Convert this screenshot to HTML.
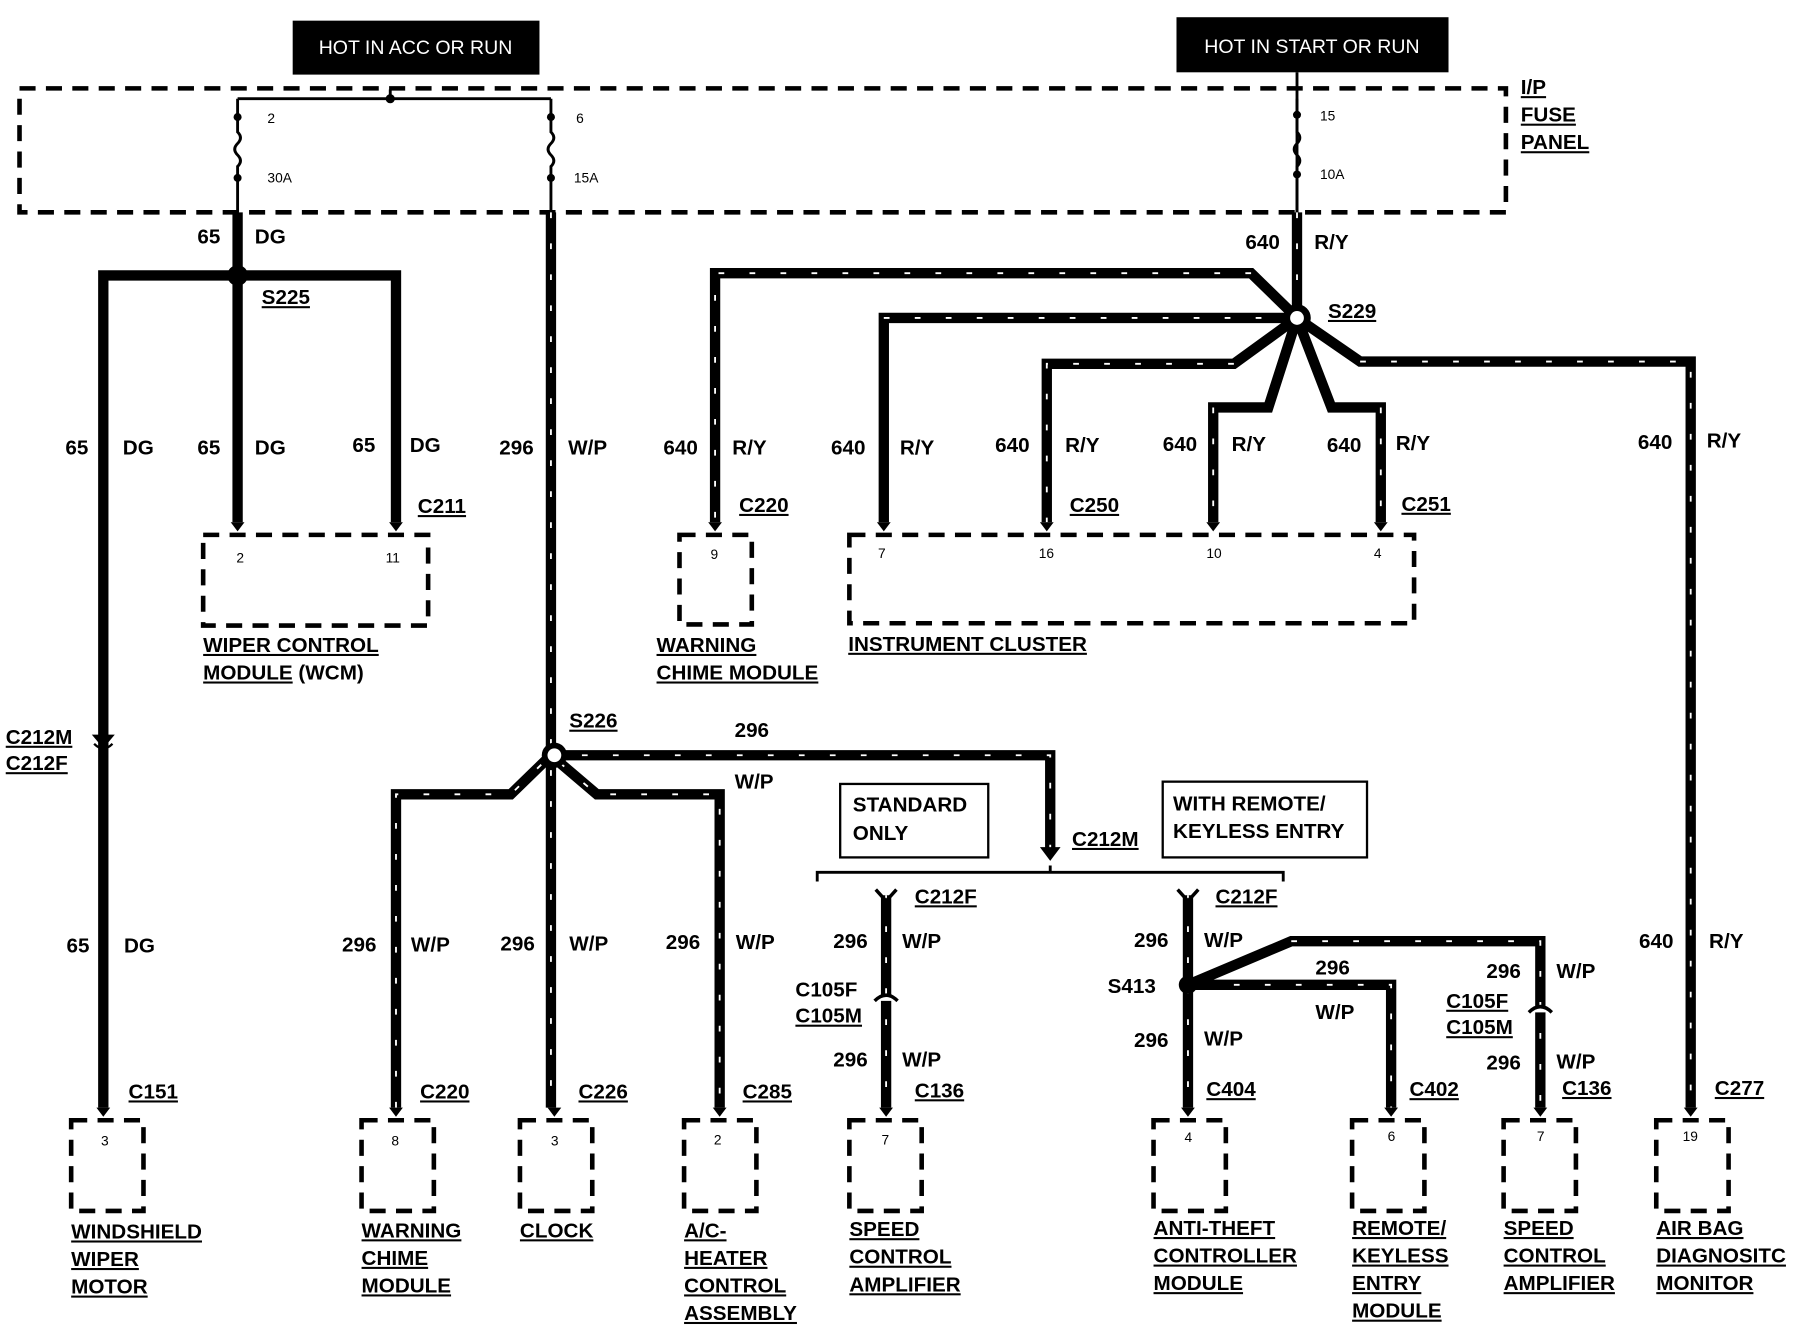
<!DOCTYPE html>
<html><head><meta charset="utf-8"><style>
html,body{margin:0;padding:0;background:#fff;}
svg{display:block;}
text{font-family:"Liberation Sans",Arial,sans-serif;font-weight:bold;fill:#000;}
.w{fill:none;stroke:#000;stroke-width:9;stroke-linejoin:miter;}
.s{fill:none;stroke:#fff;stroke-width:1.6;stroke-dasharray:5 22;}
.d{fill:none;stroke:#000;stroke-width:4;stroke-dasharray:14 9;}
.t{font-size:18px;}
.u{font-size:18px;text-decoration:underline;}
.p{font-size:12px;font-weight:normal;}
</style></head><body>
<svg width="1794" height="1328" viewBox="0 0 1563 1157" preserveAspectRatio="none" xmlns="http://www.w3.org/2000/svg">
<rect x="0" y="0" width="1563" height="1157" fill="#fff"/>
<rect x="255" y="18" width="215" height="47" fill="#000"/>
<text x="362" y="47" text-anchor="middle" style="fill:#fff;font-weight:normal;font-size:17px">HOT IN ACC OR RUN</text>
<rect x="1025" y="15" width="237" height="48" fill="#000"/>
<text x="1143" y="46" text-anchor="middle" style="fill:#fff;font-weight:normal;font-size:17px">HOT IN START OR RUN</text>
<rect x="17" y="77" width="1295" height="108" class="d"/>
<path d="M207 86 H480 M340 78 V86 M1130 63 V185" stroke="#000" stroke-width="2.5" fill="none"/>
<circle cx="340" cy="86" r="4"/>
<path d="M207 86 V115 q5 5 0 10 q-5 5 0 10 q5 5 0 10 V185" stroke="#000" stroke-width="2.5" fill="none"/>
<path d="M480 86 V115 q5 5 0 10 q-5 5 0 10 q5 5 0 10 V185" stroke="#000" stroke-width="2.5" fill="none"/>
<path d="M1130 86 V115 q5 5 0 10 q-5 5 0 10 q5 5 0 10 V185" stroke="#000" stroke-width="2.5" fill="none"/>
<circle cx="207" cy="102" r="3.5"/><circle cx="207" cy="155" r="3.5"/>
<circle cx="480" cy="102" r="3.5"/><circle cx="480" cy="155" r="3.5"/>
<circle cx="1130" cy="100" r="3.5"/><circle cx="1130" cy="152" r="3.5"/>
<text x="233" y="107" class="p">2</text><text x="233" y="159" class="p">30A</text>
<text x="502" y="107" class="p">6</text><text x="500" y="159" class="p">15A</text>
<text x="1150" y="105" class="p">15</text><text x="1150" y="156" class="p">10A</text>
<text x="1325" y="82" class="u">I/P</text><text x="1325" y="106" class="u">FUSE</text><text x="1325" y="130" class="u">PANEL</text>

<path class="w" d="M207 185 V455 M90 965 V240 H345 V455"/>
<circle cx="207" cy="240" r="9"/>
<path d="M82 640 q8 8 16 0" stroke="#fff" stroke-width="4" fill="none"/>
<path d="M82 648 q8 8 16 0" stroke="#000" stroke-width="2" fill="none"/>
<path d="M80 640 l10 12 l10 -12" fill="#000"/>
<text x="172" y="212" class="t">65</text><text x="222" y="212" class="t">DG</text>
<text x="228" y="265" class="u">S225</text>
<text x="57" y="396" class="t">65</text><text x="107" y="396" class="t">DG</text>
<text x="172" y="396" class="t">65</text><text x="222" y="396" class="t">DG</text>
<text x="307" y="394" class="t">65</text><text x="357" y="394" class="t">DG</text>
<text x="364" y="447" class="u">C211</text>
<text x="5" y="648" class="u">C212M</text><text x="5" y="671" class="u">C212F</text>
<text x="58" y="830" class="t">65</text><text x="108" y="830" class="t">DG</text>
<text x="112" y="957" class="u">C151</text>
<rect x="177" y="466" width="196" height="79" class="d"/>
<text x="206" y="490" class="p">2</text><text x="336" y="490" class="p">11</text>
<path d="M201 455 l6 8 l6 -8 M339 455 l6 8 l6 -8" fill="#000"/>
<text x="177" y="568" class="u">WIPER CONTROL</text><text x="177" y="592" class="t"><tspan text-decoration="underline">MODULE</tspan> (WCM)</text>

<g>
<path class="w" d="M480 185 V965 M345 965 V692 H445 L480 658 L520 692 H627 V965 M480 658 H915 V740"/>
<path class="s" d="M480 185 V965 M345 965 V692 H445 L480 658 L520 692 H627 V965 M480 658 H915 V740"/>
</g>
<circle cx="483" cy="658" r="11"/><circle cx="483" cy="658" r="6" fill="#fff"/>
<path d="M906 738 l9 12 l9 -12z"/>
<text x="435" y="396" class="t">296</text><text x="495" y="396" class="t">W/P</text>
<text x="496" y="634" class="u">S226</text>
<text x="640" y="642" class="t">296</text><text x="640" y="687" class="t">W/P</text>
<text x="934" y="737" class="u">C212M</text>
<rect x="732" y="683" width="129" height="64" fill="none" stroke="#000" stroke-width="2"/>
<text x="743" y="707" class="t">STANDARD</text><text x="743" y="732" class="t">ONLY</text>
<rect x="1013" y="681" width="178" height="66" fill="none" stroke="#000" stroke-width="2"/>
<text x="1022" y="706" class="t">WITH REMOTE/</text><text x="1022" y="730" class="t">KEYLESS ENTRY</text>
<path d="M712 768 V760 H1118 V768 M915 760 V754" stroke="#000" stroke-width="2.5" fill="none"/>

<g>
<path class="w" d="M1130 185 V277 M1130 277 L1090 238 H623 V455 M1130 277 H770 V455 M1130 277 L1075 317 H912 V455 M1130 277 L1105 355 H1057 V455 M1130 277 L1160 355 H1203 V455 M1130 277 L1185 315 H1473 V965"/>
<path class="s" d="M1130 185 V277 M1090 238 H623 V455 M770 277 H1130 M1075 317 H912 V455 M1057 355 V455 M1203 355 V455 M1185 315 H1473 V965"/>
</g>
<circle cx="1130" cy="277" r="12"/><circle cx="1130" cy="277" r="6" fill="#fff"/>
<text x="1085" y="217" class="t">640</text><text x="1145" y="217" class="t">R/Y</text>
<text x="1157" y="277" class="u">S229</text>
<text x="578" y="396" class="t">640</text><text x="638" y="396" class="t">R/Y</text>
<text x="724" y="396" class="t">640</text><text x="784" y="396" class="t">R/Y</text>
<text x="867" y="394" class="t">640</text><text x="928" y="394" class="t">R/Y</text>
<text x="1013" y="393" class="t">640</text><text x="1073" y="393" class="t">R/Y</text>
<text x="1156" y="394" class="t">640</text><text x="1216" y="392" class="t">R/Y</text>
<text x="1427" y="391" class="t">640</text><text x="1487" y="390" class="t">R/Y</text>
<text x="644" y="446" class="u">C220</text><text x="932" y="446" class="u">C250</text><text x="1221" y="445" class="u">C251</text>
<path d="M617 455 l6 8 l6 -8 M764 455 l6 8 l6 -8 M906 455 l6 8 l6 -8 M1051 455 l6 8 l6 -8 M1197 455 l6 8 l6 -8" fill="#000"/>
<rect x="592" y="466" width="63" height="78" class="d"/>
<text x="619" y="487" class="p">9</text>
<rect x="740" y="466" width="492" height="77" class="d"/>
<text x="765" y="486" class="p">7</text><text x="905" y="486" class="p">16</text><text x="1051" y="486" class="p">10</text><text x="1197" y="486" class="p">4</text>
<text x="572" y="568" class="u">WARNING</text><text x="572" y="592" class="u">CHIME MODULE</text>
<text x="739" y="567" class="u">INSTRUMENT CLUSTER</text>
<text x="1489" y="826" class="t">R/Y</text><text x="1428" y="826" class="t">640</text>
<text x="1494" y="954" class="u">C277</text>

<g>
<path class="w" d="M772 780 V965 M1035 780 V965 M1035 858 L1125 820 H1342 V965 M1035 858 L1075 858 H1212 V965"/>
<path class="s" d="M772 780 V965 M1035 780 V965 M1125 820 H1342 V965 M1075 858 H1212 V965"/>
</g>
<circle cx="1035" cy="858" r="8"/>
<path d="M763 775 l9 10 l9 -10 M1026 775 l9 10 l9 -10" stroke="#000" stroke-width="3" fill="none"/>
<path d="M762 872 q10 -10 20 0 M1332 882 q10 -10 20 0" stroke="#000" stroke-width="3" fill="#fff"/>
<text x="797" y="787" class="u">C212F</text><text x="1059" y="787" class="u">C212F</text>
<text x="726" y="826" class="t">296</text><text x="786" y="826" class="t">W/P</text>
<text x="693" y="868" class="t">C105F</text><text x="693" y="891" class="u">C105M</text>
<text x="726" y="929" class="t">296</text><text x="786" y="929" class="t">W/P</text>
<text x="797" y="956" class="u">C136</text>
<text x="988" y="825" class="t">296</text><text x="1049" y="825" class="t">W/P</text>
<text x="965" y="865" class="t">S413</text>
<text x="1146" y="849" class="t">296</text><text x="1146" y="888" class="t">W/P</text>
<text x="988" y="912" class="t">296</text><text x="1049" y="911" class="t">W/P</text>
<text x="1051" y="955" class="u">C404</text><text x="1228" y="955" class="u">C402</text>
<text x="1295" y="852" class="t">296</text><text x="1356" y="852" class="t">W/P</text>
<text x="1260" y="878" class="u">C105F</text><text x="1260" y="901" class="u">C105M</text>
<text x="1295" y="932" class="t">296</text><text x="1356" y="931" class="t">W/P</text>
<text x="1361" y="954" class="u">C136</text>

<text x="298" y="829" class="t">296</text><text x="358" y="829" class="t">W/P</text>
<text x="436" y="828" class="t">296</text><text x="496" y="828" class="t">W/P</text>
<text x="580" y="827" class="t">296</text><text x="641" y="827" class="t">W/P</text>
<text x="366" y="957" class="u">C220</text><text x="504" y="957" class="u">C226</text><text x="647" y="957" class="u">C285</text>
<path d="M84 965 l6 8 l6 -8 M339 965 l6 8 l6 -8 M477 965 l6 8 l6 -8 M621 965 l6 8 l6 -8 M766 965 l6 8 l6 -8 M1029 965 l6 8 l6 -8 M1206 965 l6 8 l6 -8 M1336 965 l6 8 l6 -8 M1467 965 l6 8 l6 -8" fill="#000"/>
<rect x="62" y="976" width="63" height="79" class="d"/>
<rect x="315" y="976" width="63" height="79" class="d"/>
<rect x="453" y="976" width="63" height="79" class="d"/>
<rect x="596" y="976" width="63" height="79" class="d"/>
<rect x="740" y="976" width="63" height="79" class="d"/>
<rect x="1005" y="976" width="63" height="79" class="d"/>
<rect x="1178" y="976" width="63" height="79" class="d"/>
<rect x="1310" y="976" width="63" height="79" class="d"/>
<rect x="1443" y="976" width="63" height="79" class="d"/>
<text x="88" y="998" class="p">3</text><text x="341" y="998" class="p">8</text><text x="480" y="998" class="p">3</text>
<text x="622" y="997" class="p">2</text><text x="768" y="997" class="p">7</text><text x="1032" y="995" class="p">4</text>
<text x="1209" y="994" class="p">6</text><text x="1339" y="994" class="p">7</text><text x="1466" y="994" class="p">19</text>
<text x="62" y="1079" class="u">WINDSHIELD</text><text x="62" y="1103" class="u">WIPER</text><text x="62" y="1127" class="u">MOTOR</text>
<text x="315" y="1078" class="u">WARNING</text><text x="315" y="1102" class="u">CHIME</text><text x="315" y="1126" class="u">MODULE</text>
<text x="453" y="1078" class="u">CLOCK</text>
<text x="596" y="1078" class="u">A/C-</text><text x="596" y="1102" class="u">HEATER</text><text x="596" y="1126" class="u">CONTROL</text><text x="596" y="1150" class="u">ASSEMBLY</text>
<text x="740" y="1077" class="u">SPEED</text><text x="740" y="1101" class="u">CONTROL</text><text x="740" y="1125" class="u">AMPLIFIER</text>
<text x="1005" y="1076" class="u">ANTI-THEFT</text><text x="1005" y="1100" class="u">CONTROLLER</text><text x="1005" y="1124" class="u">MODULE</text>
<text x="1178" y="1076" class="u">REMOTE/</text><text x="1178" y="1100" class="u">KEYLESS</text><text x="1178" y="1124" class="u">ENTRY</text><text x="1178" y="1148" class="u">MODULE</text>
<text x="1310" y="1076" class="u">SPEED</text><text x="1310" y="1100" class="u">CONTROL</text><text x="1310" y="1124" class="u">AMPLIFIER</text>
<text x="1443" y="1076" class="u">AIR BAG</text><text x="1443" y="1100" class="u">DIAGNOSITC</text><text x="1443" y="1124" class="u">MONITOR</text>
</svg>
</body></html>
